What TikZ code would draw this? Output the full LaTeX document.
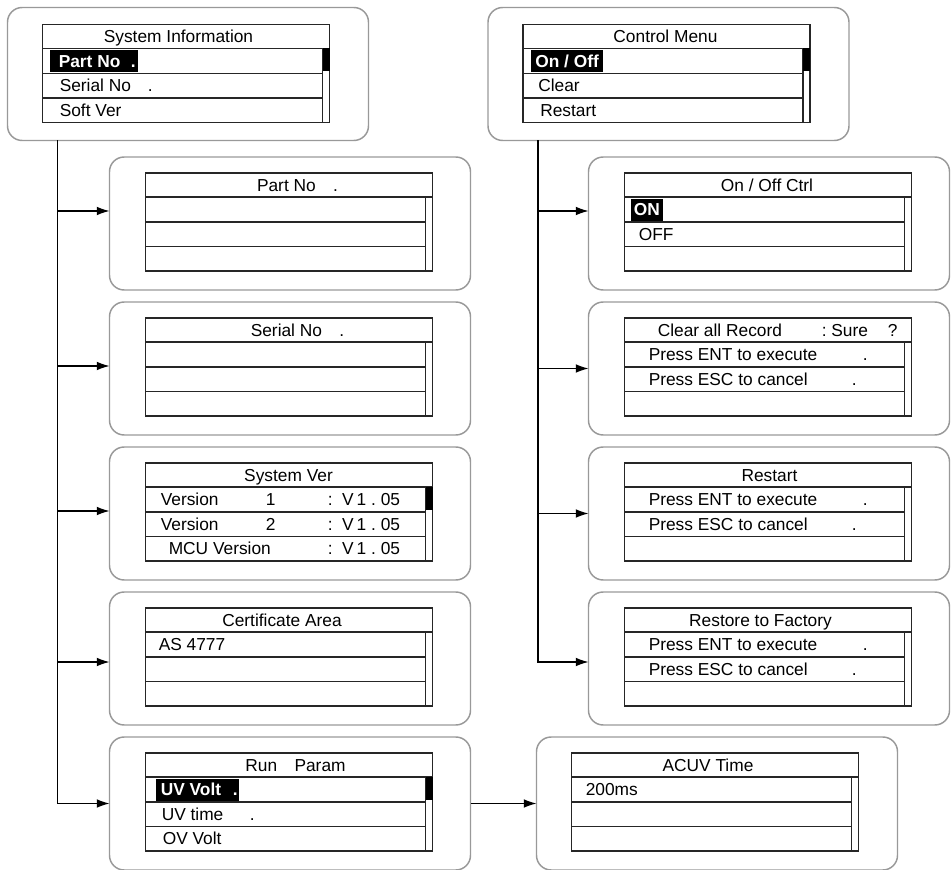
\documentclass[tikz,border=0pt]{standalone}
\usepackage{fontspec}
\setmainfont{Liberation Sans}
\usetikzlibrary{arrows.meta,calc,positioning}
\newcommand{\lcdfont}{\fontsize{13}{15}\selectfont}
\newcommand{\lcdgrid}{%
  \draw[lcd] (0,0) rectangle (287,98);
  \draw[lcd] (0,24) -- (287,24) (0,49) -- (280,49) (0,73.5) -- (280,73.5) (280,24) -- (280,98);}
\newcommand{\lcdthumb}{\fill (280,24) rectangle (287,47);}

\begin{document}
\begin{tikzpicture}[
    x=0.75pt, y=-0.75pt,
    node distance=9pt,
    panel/.style={draw=gray!80,line width=1.1pt,rounded corners=11pt,minimum width=270.75pt,minimum height=99.75pt,inner sep=0pt,outer sep=0pt},
    lcd/.style={draw=black!85,line width=0.8pt},
    ttl/.style={inner sep=0pt,font=\lcdfont,text height=9.3pt,text depth=0pt},
    item/.style={ttl,anchor=west},
    hl/.style={item,text=white,font=\lcdfont\bfseries},
    conn/.style={-{Latex[length=9.5pt,width=6.5pt]},line width=0.9pt}
  ]
  \useasboundingbox (0,0) rectangle (951,870);
  % outer panels
  \node[panel] (sysinfo) at (188,74) {};
  \node[panel] (ctrlmenu) at (668.5,74) {};
  \node[panel] (partno) at (290,223.5) {};
  \node[panel,below=of partno] (serialno) {};
  \node[panel,below=of serialno] (sysver) {};
  \node[panel,below=of sysver] (cert) {};
  \node[panel,below=of cert] (runparam) {};
  \node[panel,right=88.5pt of partno] (onoff) {};
  \node[panel,below=of onoff] (clearrec) {};
  \node[panel,below=of clearrec] (restart) {};
  \node[panel,below=of restart] (restore) {};
  \node[panel,right=49.5pt of runparam] (acuv) {};

  % screens
  \begin{scope}[shift={($(sysinfo.north west)+(35,17)$)}]
    \lcdgrid \lcdthumb
    \fill (7,26) rectangle (95,48);
    \node[ttl] (sysinfo-t) at (136,12) {System Information};
    \node[hl] (sysinfo-1) at (16,36.5) {Part No};
    \node[hl] (sysinfo-1d) at (88,36.5) {.};
    \node[item] (sysinfo-2) at (17,61) {Serial No};
    \node[item] (sysinfo-2d) at (105,61) {.};
    \node[item] (sysinfo-3) at (17,85.5) {Soft Ver};
  \end{scope}
  \begin{scope}[shift={($(ctrlmenu.north west)+(35,17)$)}]
    \lcdgrid \lcdthumb
    \fill (8,26) rectangle (80,48);
    \node[ttl] (ctrlmenu-t) at (142.5,12) {Control Menu};
    \node[hl] (ctrlmenu-1) at (12,36.5) {On / Off};
    \node[item] (ctrlmenu-2) at (15,61) {Clear};
    \node[item] (ctrlmenu-3) at (17,85.5) {Restart};
  \end{scope}
  \begin{scope}[shift={($(partno.north west)+(36,16)$)}]
    \lcdgrid
    \node[ttl] (partno-t) at (152,12) {Part No\quad.};
  \end{scope}
  \begin{scope}[shift={($(serialno.north west)+(36,16)$)}]
    \lcdgrid
    \node[ttl] (serialno-t) at (152,12) {Serial No\quad.};
  \end{scope}
  \begin{scope}[shift={($(sysver.north west)+(36,16)$)}]
    \lcdgrid \lcdthumb
    \node[ttl] (sysver-t) at (143,12) {System Ver};
    \node[item] (sysver-1) at (15,36.5) {Version};
    \node[item] (sysver-1n) at (120,36.5) {1};
    \node[item] (sysver-1v) at (182,36.5) {:\ \ V\,1\ .\ 05};
    \node[item] (sysver-2) at (15,61) {Version};
    \node[item] (sysver-2n) at (120,61) {2};
    \node[item] (sysver-2v) at (182,61) {:\ \ V\,1\ .\ 05};
    \node[item] (sysver-3) at (23,85.5) {MCU Version};
    \node[item] (sysver-3v) at (182,85.5) {:\ \ V\,1\ .\ 05};
  \end{scope}
  \begin{scope}[shift={($(cert.north west)+(36,16)$)}]
    \lcdgrid
    \node[ttl] (cert-t) at (136.5,12) {Certificate Area};
    \node[item] (cert-1) at (13,36.5) {AS 4777};
  \end{scope}
  \begin{scope}[shift={($(runparam.north west)+(36,16)$)}]
    \lcdgrid \lcdthumb
    \fill (10,26) rectangle (93,48);
    \node[ttl] (runparam-t) at (150,12) {Run\quad Param};
    \node[hl] (runparam-1) at (15,36.5) {UV Volt};
    \node[hl] (runparam-1d) at (87,36.5) {.};
    \node[item] (runparam-2) at (16,61) {UV time};
    \node[item] (runparam-2d) at (104,61) {.};
    \node[item] (runparam-3) at (17,85.5) {OV Volt};
  \end{scope}
  \begin{scope}[shift={($(onoff.north west)+(36,16)$)}]
    \lcdgrid
    \fill (6,26) rectangle (38,48);
    \node[ttl] (onoff-t) at (142.5,12) {On / Off Ctrl};
    \node[hl] (onoff-1) at (9,36.5) {ON};
    \node[item] (onoff-2) at (14,61) {OFF};
  \end{scope}
  \begin{scope}[shift={($(clearrec.north west)+(36,16)$)}]
    \lcdgrid
    \node[item] (clearrec-t) at (33,12) {Clear all Record};
    \node[item] (clearrec-ts) at (197,12) {:\ Sure};
    \node[item] (clearrec-tq) at (263,12) {?};
    \node[item] (clearrec-1) at (24,36.5) {Press ENT to execute};
    \node[item] (clearrec-1d) at (238,36.5) {.};
    \node[item] (clearrec-2) at (24,61) {Press ESC to cancel};
    \node[item] (clearrec-2d) at (227,61) {.};
  \end{scope}
  \begin{scope}[shift={($(restart.north west)+(36,16)$)}]
    \lcdgrid
    \node[ttl] (restart-t) at (145,12) {Restart};
    \node[item] (restart-1) at (24,36.5) {Press ENT to execute};
    \node[item] (restart-1d) at (238,36.5) {.};
    \node[item] (restart-2) at (24,61) {Press ESC to cancel};
    \node[item] (restart-2d) at (227,61) {.};
  \end{scope}
  \begin{scope}[shift={($(restore.north west)+(36,16)$)}]
    \lcdgrid
    \node[ttl] (restore-t) at (136,12) {Restore to Factory};
    \node[item] (restore-1) at (24,36.5) {Press ENT to execute};
    \node[item] (restore-1d) at (238,36.5) {.};
    \node[item] (restore-2) at (24,61) {Press ESC to cancel};
    \node[item] (restore-2d) at (227,61) {.};
  \end{scope}
  \begin{scope}[shift={($(acuv.north west)+(35,16)$)}]
    \lcdgrid
    \node[ttl] (acuv-t) at (136.5,12) {ACUV Time};
    \node[item] (acuv-1) at (14,36.5) {200ms};
  \end{scope}

  % connectors
  \coordinate (ltop) at ($(sysinfo.south west)+(50,0)$);
  \coordinate (rtop) at ($(ctrlmenu.south west)+(50,0)$);
  \draw[conn] (ltop) |- ($(partno.west)+(0,-12.5)$);
  \draw[conn] (ltop) |- ($(serialno.west)+(0,-2.5)$);
  \draw[conn] (ltop) |- ($(sysver.west)+(0,-2.5)$);
  \draw[conn] (ltop) |- ($(cert.west)+(0,3.5)$);
  \draw[conn] (ltop) |- (runparam.west);
  \draw[conn] (rtop) |- ($(onoff.west)+(0,-12.5)$);
  \draw[conn] (rtop) |- (clearrec.west);
  \draw[conn] (rtop) |- (restart.west);
  \draw[conn] (rtop) |- ($(restore.west)+(0,3.5)$);
  \draw[conn] (runparam) -- (acuv);
\end{tikzpicture}
\end{document}
